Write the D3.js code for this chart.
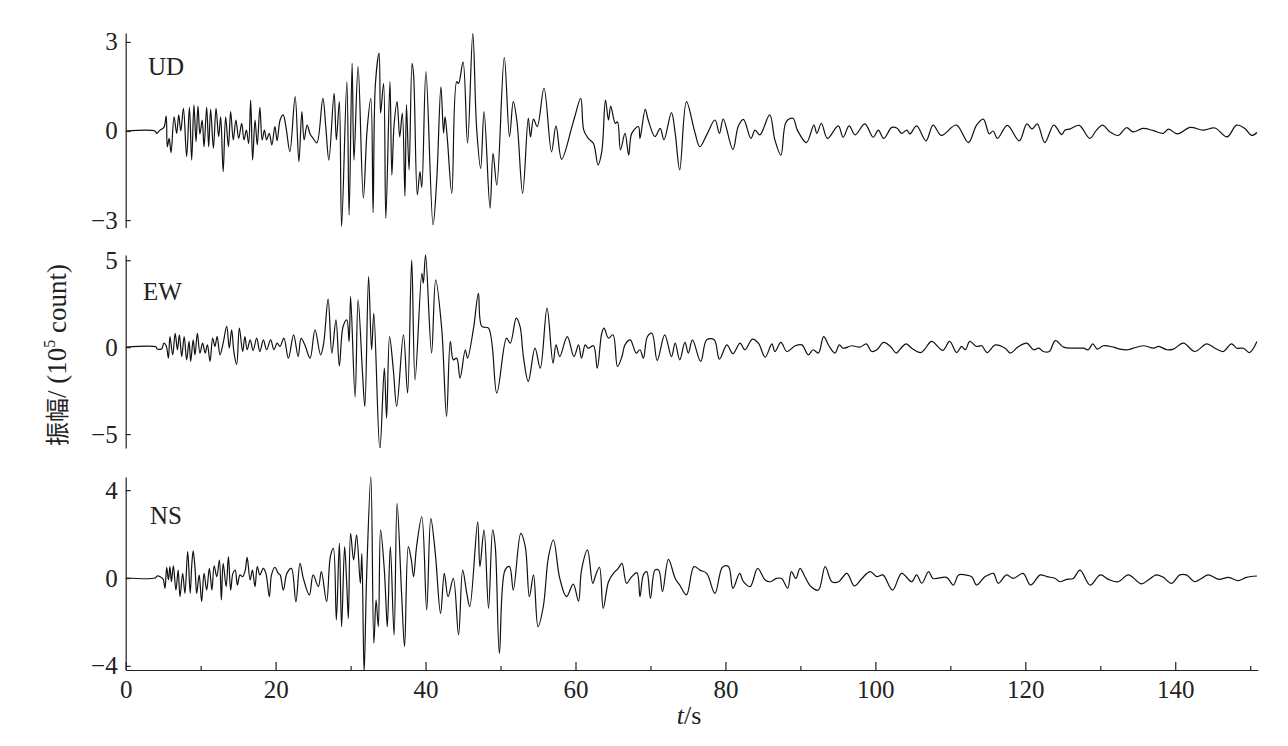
<!DOCTYPE html>
<html><head><meta charset="utf-8">
<script src="https://cdn.jsdelivr.net/npm/d3@7"></script>
<style>
body{margin:0;background:#fff}
svg text{font-family:"Liberation Serif","DejaVu Serif","Times New Roman",serif;fill:#222}
</style>
</head><body>
<svg id="chart" width="1288" height="746"></svg>
<script>
// ---------------- data ----------------
const timeDomain = [0, 151];
const xMajorTicks = [0, 20, 40, 60, 80, 100, 120, 140];
const xMinorTicks = [10, 30, 50, 70, 90, 110, 130, 150];
const componentNames = ["UD", "EW", "NS"];
const udTicks = [-3, 0, 3];
const ewTicks = [-5, 0, 5];
const nsTicks = [-4, 0, 4];
const udDomain = [-3.25, 3.3];
const ewDomain = [-5.8, 5.3];
const nsDomain = [-4.19, 4.6];

// [time (s), amplitude (1e5 count)]
const udTrace = [[0,0],[3.9,0],[4.13,-0.08],[4.58,0.03],[5.1,0.12],[5.4,0.5],[5.55,-0.53],[5.8,-0.25],[6.05,-0.73],[6.45,0.48],[6.8,-0.08],[7.07,0.54],[7.35,0],[7.7,0.76],[8.13,-0.86],[8.5,0.8],[8.8,-0.98],[9.1,0.88],[9.38,-0.36],[9.64,0.84],[9.9,-0.1],[10.2,0.37],[10.45,-0.53],[10.8,0.8],[11.07,-0.53],[11.33,0.73],[11.7,-0.58],[12.05,0.76],[12.4,-0.19],[12.67,0.48],[13.0,-1.37],[13.33,0.48],[13.7,-0.53],[14.0,0.65],[14.35,-0.3],[14.7,0.37],[15.07,-0.25],[15.47,0.26],[15.78,-0.3],[16.1,0.03],[16.4,-0.42],[16.67,1.04],[16.93,-0.98],[17.25,0.37],[17.55,-0.47],[17.9,0.8],[18.2,-0.3],[18.5,0.03],[18.8,-0.3],[19.15,-0.08],[19.5,-0.47],[19.9,0.15],[20.2,-0.33],[20.6,0.37],[21.0,0.54],[21.4,0.1],[21.9,-0.7],[22.6,1.16],[23.1,-1.03],[23.5,0.65],[23.8,-0.3],[24.2,0.2],[24.6,-0.1],[25.0,-0.25],[25.5,-0.4],[26.3,1.1],[26.7,0.1],[27.1,-0.98],[27.8,1.27],[28.1,-0.3],[28.5,0.99],[28.8,-3.22],[29.5,1.66],[29.8,-2.83],[30.2,2.28],[30.45,-0.98],[31.0,2.17],[31.7,-2.26],[32.2,0.03],[32.7,1.1],[33.0,-2.75],[33.3,1.55],[33.8,2.62],[34.0,0.6],[34.4,1.6],[34.7,-2.94],[35.25,1.66],[35.5,-1.48],[35.8,0.2],[36.2,0.99],[36.55,-0.2],[36.9,0.6],[37.25,-2.19],[37.45,0.88],[37.8,-1.31],[38.2,2.28],[38.4,1.9],[38.9,-2.15],[39.25,-1.37],[39.5,-1.9],[40.05,2.0],[41.0,-3.16],[41.5,-1.6],[42.05,1.49],[42.4,-0.07],[42.6,0.48],[42.9,-0.25],[43.5,-2.1],[44.15,1.66],[44.4,1.6],[45.0,2.33],[45.6,-0.41],[46.3,3.29],[46.8,0.14],[47.35,-1.26],[47.8,0.65],[48.6,-2.6],[49.0,-0.75],[49.5,-1.82],[50.5,2.48],[51.2,-0.19],[51.7,0.99],[52.2,0.3],[52.95,-2.1],[53.7,0.43],[54.0,-0.2],[54.4,0.4],[54.9,0.15],[55.8,1.44],[56.8,-0.7],[57.4,0.17],[58.15,-0.95],[59.5,0.12],[59.9,0.48],[60.7,1.1],[61.1,0.03],[61.7,-0.25],[62.4,-0.42],[63.0,-1.14],[63.5,-0.7],[64.0,1.04],[64.4,0.37],[64.7,0.84],[65.3,0.26],[65.6,0.31],[66.0,-0.64],[66.6,-0.08],[67.1,-0.81],[67.5,-0.08],[68.4,0.15],[68.6,-0.25],[69.3,0.73],[69.7,0.37],[70.6,-0.19],[71.3,0.09],[71.8,-0.3],[72.8,0.62],[73.3,-0.08],[73.9,-1.31],[74.8,0.99],[75.9,-0.02],[76.6,-0.53],[77.5,-0.13],[78.6,0.37],[79.2,-0.08],[79.7,0.4],[81.0,-0.62],[81.7,0.15],[82.4,0.39],[83.4,-0.25],[83.95,0.03],[84.6,-0.13],[85.9,0.54],[86.6,-0.3],[87.4,-0.81],[88.1,0.31],[89.0,0.43],[89.6,0.03],[90.8,-0.39],[91.8,0.2],[92.2,-0.08],[92.8,0.26],[93.6,-0.25],[95.05,0.17],[95.7,-0.21],[96.5,0.17],[97.3,-0.13],[98.6,0.24],[99.7,-0.21],[100.4,0.03],[101.1,-0.25],[102.2,0.12],[102.9,0.09],[103.5,-0.08],[104.2,0.03],[104.6,-0.1],[105.5,0.17],[106.75,-0.33],[107.7,0.2],[108.8,-0.15],[110.8,0.2],[112.4,-0.39],[113.5,0.2],[114.4,0.4],[115.2,-0.1],[115.7,0],[116.3,-0.25],[117.6,0.19],[119.2,-0.33],[120.2,0.24],[120.9,0.07],[121.6,0.24],[122.6,-0.39],[123.8,0.2],[124.85,-0.12],[125.3,0.03],[126.0,0.07],[127.2,0.19],[128.6,-0.25],[129.5,0.03],[130.3,0.2],[131.3,-0.03],[132.4,-0.15],[133.5,0.11],[134.4,-0.03],[135.7,0.09],[137.1,0.01],[138.4,-0.08],[139.1,0.06],[140.3,-0.1],[142,0.12],[143.7,0.03],[145.3,0.1],[146.9,-0.2],[148.2,0.2],[149.3,0.08],[150.2,-0.15],[150.9,-0.05]];

const ewTrace = [[0,0],[4.1,0],[4.15,-0.1],[4.8,-0.1],[5.1,0.23],[5.4,0.08],[5.7,-0.63],[5.9,0.61],[6.27,-0.44],[6.6,0.8],[6.9,-0.15],[7.16,0.71],[7.47,-0.54],[7.8,0.61],[8.13,-0.73],[8.45,0.33],[8.67,-0.82],[9.0,0.42],[9.24,-0.44],[9.56,0.8],[9.9,-0.34],[10.26,0.23],[10.6,-0.34],[10.9,0.13],[11.25,-0.82],[11.6,0.52],[11.9,0.04],[12.2,0.61],[12.58,-0.44],[13.0,0.23],[13.47,1.19],[13.82,-0.06],[14.13,1.0],[14.45,-0.34],[14.8,-1.0],[15.16,1.09],[15.6,-0.25],[15.9,0.61],[16.2,-0.15],[16.6,0.42],[17.0,-0.19],[17.47,0.52],[17.9,-0.25],[18.36,0.42],[18.8,-0.15],[19.33,0.42],[19.78,-0.15],[20.2,0.23],[20.58,0.04],[21.1,0.52],[21.7,-0.63],[22.4,0.71],[23.0,-0.54],[23.4,0.5],[23.9,0.13],[24.6,-0.63],[25.25,1.0],[26.0,-0.44],[26.4,0.2],[27.0,2.76],[27.5,-0.34],[28.05,1.57],[28.5,-1.07],[29.0,1.19],[29.5,1.57],[29.8,0.33],[30.0,2.91],[30.6,-2.87],[31.0,2.72],[31.6,-1.59],[31.9,-3.41],[32.4,4.06],[32.8,-0.15],[33.1,1.95],[33.9,-5.9],[34.5,-1.21],[34.8,-4.08],[35.2,0.61],[35.7,-1.3],[36.15,-3.41],[37.05,0.71],[37.6,-2.64],[38.15,5.02],[38.6,-1.88],[39.5,4.25],[39.7,3.68],[40.0,5.31],[40.8,-0.34],[41.35,3.87],[42.15,1.09],[42.8,-3.98],[43.3,0.33],[43.7,-0.73],[44.15,-0.63],[44.6,-1.78],[45.3,-0.15],[45.6,-0.63],[46.4,1.09],[47.05,3.1],[47.5,1.19],[48.4,1.09],[49.5,-2.64],[50.8,0.52],[51.3,0.23],[52.1,1.67],[52.6,1.19],[53.05,-0.54],[53.7,-1.97],[54.6,-0.06],[55.3,-1.21],[56.2,2.24],[57.0,-0.92],[57.4,0.13],[57.9,-0.54],[58.9,0.61],[59.8,-0.54],[60.4,0.13],[60.8,-0.63],[61.3,0.13],[61.7,-0.06],[62.4,0.08],[62.9,-1.21],[63.5,0.8],[63.8,1.09],[64.4,0.52],[65.0,0.71],[65.6,-1.11],[66.2,-0.54],[66.6,0.13],[67.3,0.42],[68.1,-0.34],[68.6,-0.15],[69.05,-0.63],[69.6,0.61],[70.2,0.8],[70.9,-0.77],[71.9,0.71],[72.8,-0.54],[73.3,0.23],[73.9,-0.73],[74.6,0.27],[75.05,-0.34],[75.6,0.42],[76.7,-0.82],[77.5,0.42],[78.5,0.42],[79.2,-0.69],[80.2,0.13],[81.0,-0.38],[81.95,0.23],[82.6,-0.15],[83.6,0.46],[84.4,0.23],[85.3,-0.57],[86.2,0.19],[86.6,-0.25],[87.4,0.27],[88.2,-0.25],[89.3,0.08],[90.2,0.13],[91.05,-0.44],[91.7,-0.15],[92.4,-0.34],[93.1,0.61],[93.8,0.08],[94.6,-0.34],[95.2,0.13],[95.7,-0.06],[96.85,0.08],[97.95,0],[98.8,0.19],[99.5,-0.25],[100.2,-0.15],[101.1,0.27],[102.0,0.04],[102.8,-0.34],[103.4,-0.06],[104.1,0.19],[104.85,-0.06],[106.05,-0.31],[106.6,-0.11],[107.5,0.33],[109.0,-0.19],[109.9,0.33],[110.85,-0.31],[111.5,0.04],[112.0,-0.15],[112.6,0.33],[113.5,0.04],[114.2,0.08],[114.9,-0.31],[116.0,0.13],[117.3,-0.06],[118.0,-0.34],[119.1,0.04],[120.2,0.23],[121.1,-0.15],[121.8,-0.06],[122.4,-0.25],[123.2,-0.25],[124.0,0.38],[125.1,0],[126.4,-0.06],[127.75,-0.06],[128.4,-0.15],[129.0,0.19],[129.6,-0.11],[130.4,0.08],[131.75,0],[132.6,-0.11],[133.75,-0.15],[134.4,-0.06],[135.75,0.08],[137.1,-0.06],[137.8,0.04],[138.9,-0.15],[139.75,-0.11],[141.1,0.23],[142.6,-0.25],[144.2,0.19],[145.3,-0.06],[146.4,-0.25],[147.5,0.19],[148.2,-0.06],[149.1,-0.06],[149.9,-0.31],[150.9,0.33]];

const nsTrace = [[0,0],[3.9,0],[4.2,0.09],[4.6,0.06],[5.0,-0.06],[5.24,-0.47],[5.47,0.49],[5.7,-0.09],[5.9,0.52],[6.1,-0.17],[6.36,0.55],[6.7,-0.55],[7.0,0.36],[7.24,-0.85],[7.6,0.21],[7.9,-0.7],[8.27,1.2],[8.6,-0.7],[8.8,0.52],[9.0,1.24],[9.25,0.44],[9.47,-0.7],[9.8,0.14],[10.13,-1.08],[10.45,0.21],[10.8,-0.55],[11.16,0.44],[11.5,-0.55],[11.8,0.55],[12.15,0.06],[12.5,0.82],[12.76,-1.0],[13.0,0.67],[13.4,-0.39],[13.7,0.97],[14.0,-0.55],[14.3,0.21],[14.6,0.36],[14.9,-0.32],[15.25,0.14],[15.6,0.06],[15.95,0.36],[16.2,0.94],[16.6,-0.09],[16.9,0.36],[17.25,-0.39],[17.55,0.52],[17.9,0.14],[18.35,0.44],[18.7,0.21],[19.16,-0.85],[19.45,0.14],[19.9,0.49],[20.35,0.21],[20.6,0.14],[21.03,-0.55],[21.5,0.21],[22.1,0.44],[22.7,-1.08],[23.25,0.67],[23.7,-0.02],[24.5,-0.77],[25.0,0.14],[25.7,-0.39],[26.1,0.29],[26.8,-1.08],[27.3,0.97],[27.7,1.35],[28.1,-1.91],[28.5,1.58],[28.8,-2.22],[29.2,1.43],[29.5,-0.39],[29.7,-1.84],[30.0,2.03],[30.4,0.82],[30.8,1.96],[31.3,-0.24],[31.5,1.12],[31.8,-4.3],[32.15,0.21],[32.7,4.61],[33.1,-2.97],[33.4,-1.0],[33.7,-2.22],[34.0,2.19],[34.5,0.36],[34.7,-1.0],[34.9,-2.22],[35.3,1.43],[35.8,-2.59],[36.2,3.4],[36.8,-0.7],[37.2,-3.13],[37.7,1.43],[38.1,0.82],[38.4,0.06],[38.8,1.43],[39.5,2.79],[40.15,-1.46],[40.7,2.72],[41.3,1.12],[42.0,-1.61],[42.5,0.21],[43.0,-0.85],[43.7,-0.02],[44.4,-2.59],[44.95,0.36],[45.5,-0.7],[45.9,-1.31],[46.95,2.56],[47.25,0.52],[47.8,2.19],[48.4,-1.38],[48.95,2.19],[49.3,1.43],[49.85,-3.43],[50.6,0.36],[51.2,0.52],[51.7,-0.55],[52.7,2.03],[53.3,1.43],[53.85,-0.85],[54.4,0.14],[55.0,-2.22],[55.7,-1.31],[56.4,0.97],[57.05,1.73],[57.9,-0.02],[58.8,-0.85],[59.7,-0.28],[60.4,-1.05],[60.8,0.36],[61.6,1.27],[62.3,-0.24],[62.7,0.14],[63.2,0.49],[63.7,-1.38],[64.4,-0.17],[65.05,0.21],[65.7,0.44],[66.2,0.67],[66.8,-0.24],[67.5,0.06],[68.2,0.24],[68.6,-0.85],[69.05,0.14],[69.5,0.29],[70.0,-0.93],[70.6,0.36],[71.1,0.36],[71.6,-0.62],[72.4,0.85],[73.3,-0.02],[73.9,-0.32],[74.8,-0.77],[75.8,0.52],[76.6,0.36],[77.5,0.21],[78.6,-0.7],[79.6,0.49],[80.4,0.52],[81.0,-0.47],[81.9,0.21],[82.4,-0.17],[83.3,-0.39],[84.3,0.44],[85.3,-0.09],[86.0,-0.17],[86.8,-0.02],[87.5,-0.02],[88.3,-0.47],[88.8,0.29],[89.4,-0.02],[89.95,0.44],[90.6,0.06],[91.4,-0.39],[92.4,-0.55],[93.3,0.52],[94.2,-0.17],[95.1,-0.17],[96.2,0.21],[97.2,-0.36],[98.2,-0.02],[99.3,0.29],[100.2,0.06],[101.0,0.14],[102.3,-0.55],[103.5,0.21],[104.85,-0.17],[105.5,0.14],[106.2,-0.24],[107.1,0.29],[107.7,-0.02],[109.5,0.03],[110.4,-0.32],[111.1,0.14],[112.0,0.14],[112.85,0.06],[113.5,-0.32],[114.6,0.06],[115.1,0.14],[115.75,0.21],[116.4,-0.24],[117.5,0.14],[118.4,-0.02],[119.7,0.21],[120.7,-0.32],[122.0,0.14],[122.9,0.06],[124.0,-0.02],[124.6,-0.17],[125.5,-0.06],[126.4,-0.02],[127.3,0.36],[128.65,-0.32],[130.0,0.14],[131.1,-0.06],[132.4,-0.17],[133.75,0.14],[135.5,-0.27],[136.4,-0.09],[137.5,0.14],[138.4,0.03],[139.5,-0.24],[140.6,0.14],[141.5,0.14],[142.6,-0.17],[143.5,-0.02],[144.4,0.14],[145.8,-0.06],[147.1,0.03],[148.4,-0.12],[149.5,0.03],[150.9,0.09]];

// ---------------- drawing ----------------
const serif = '"Liberation Serif","DejaVu Serif","Times New Roman",serif';
const cjk = '"Noto Sans CJK SC","Noto Sans CJK JP",sans-serif';
const svg = d3.select("#chart");
const x = d3.scaleLinear().domain(timeDomain).range([125.7, 1257.7]);
const intFmt = d3.format("d");

const panels = [
  {name: componentNames[0], data: udTrace, domain: udDomain, ticks: udTicks, range: [227.5, 33], label: [148, 75]},
  {name: componentNames[1], data: ewTrace, domain: ewDomain, ticks: ewTicks, range: [448, 255], label: [143, 300]},
  {name: componentNames[2], data: nsTrace, domain: nsDomain, ticks: nsTicks, range: [670, 477], label: [150, 524]}
];

panels.forEach((p, i) => {
  const y = d3.scaleLinear().domain(p.domain).range(p.range);
  const clipId = "clip" + i;
  svg.append("clipPath").attr("id", clipId)
    .append("rect").attr("x", x.range()[0]).attr("y", p.range[1] - 2)
    .attr("width", x.range()[1] - x.range()[0]).attr("height", p.range[0] - p.range[1] + 2);

  const line = d3.line().curve(d3.curveCatmullRom.alpha(0.5)).x(d => x(d[0])).y(d => y(d[1]));
  svg.append("path").datum(p.data)
    .attr("clip-path", `url(#${clipId})`)
    .attr("d", line).attr("fill", "none")
    .attr("stroke", "#111").attr("stroke-width", 1.2).attr("stroke-linejoin", "round");

  const ax = svg.append("g").attr("transform", `translate(${x.range()[0]},0)`)
    .call(d3.axisLeft(y).tickValues(p.ticks).tickFormat(intFmt).tickSizeInner(-5).tickSizeOuter(0).tickPadding(8));
  ax.selectAll("path,line").attr("stroke", "#222").attr("stroke-width", 1.2);
  ax.selectAll("text").style("font-size", "25px").style("font-family", serif).attr("fill", "#222");

  svg.append("text").attr("x", p.label[0]).attr("y", p.label[1])
    .style("font-size", "25px").style("font-family", serif).text(p.name);
});

// x axis
const xAxisY = 670;
const gMinor = svg.append("g").attr("transform", `translate(0,${xAxisY})`)
  .call(d3.axisBottom(x).tickValues(xMinorTicks).tickSizeInner(-4).tickSizeOuter(0).tickFormat(""));
gMinor.select(".domain").remove();
gMinor.selectAll("line").attr("stroke", "#222").attr("stroke-width", 1.2);
const gMajor = svg.append("g").attr("transform", `translate(0,${xAxisY})`)
  .call(d3.axisBottom(x).tickValues(xMajorTicks).tickSizeInner(-8).tickSizeOuter(0).tickPadding(10).tickFormat(intFmt));
gMajor.selectAll("path,line").attr("stroke", "#222").attr("stroke-width", 1.2);
gMajor.selectAll("text").style("font-size", "25px").style("font-family", serif).attr("fill", "#222");

// axis titles
const xt = svg.append("text").attr("x", 689).attr("y", 724).attr("text-anchor", "middle")
  .style("font-size", "26px").style("font-family", serif);
xt.append("tspan").attr("font-style", "italic").text("t");
xt.append("tspan").text("/s");

const yt = svg.append("text").attr("transform", "translate(66,355) rotate(-90)")
  .attr("text-anchor", "middle").style("font-size", "27px").style("font-family", serif);
yt.append("tspan").style("font-family", cjk).style("font-size", "24px").text("振幅");
yt.append("tspan").text("/ (10");
yt.append("tspan").attr("dy", -11).style("font-size", "16px").text("5");
yt.append("tspan").attr("dy", 11).text(" count)");
</script>
</body></html>
